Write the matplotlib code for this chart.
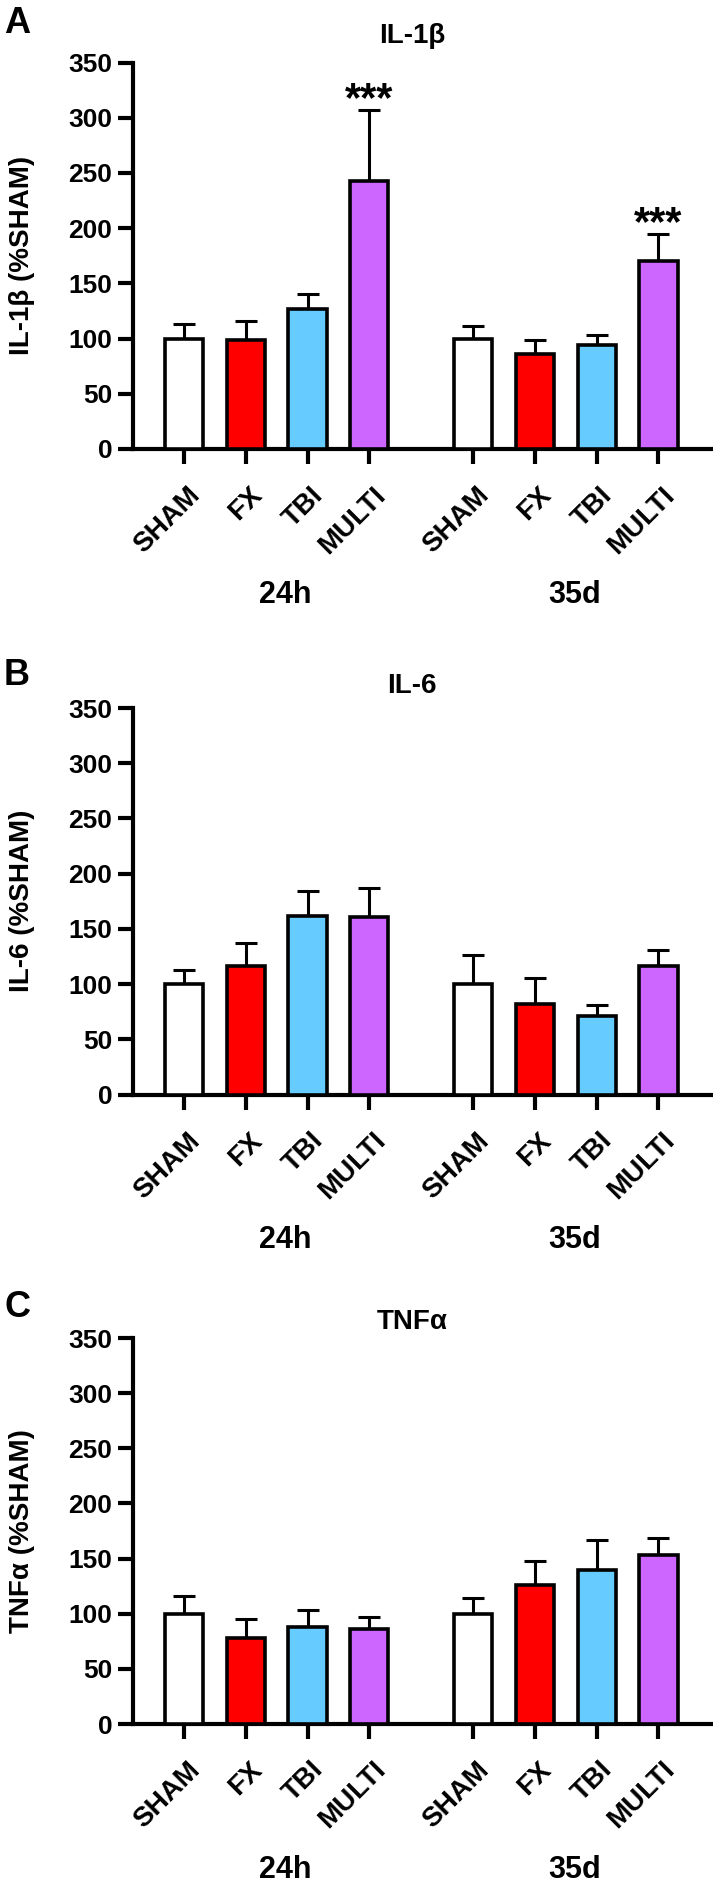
import numpy as np
import matplotlib.pyplot as plt

plt.rcParams['font.family'] = ['Liberation Sans', 'DejaVu Sans']
plt.rcParams['font.weight'] = 'bold'

# 组别与颜色
groups = ['SHAM', 'FX', 'TBI', 'MULTI']
times = ['24h', '35d']
colors = ['#FFFFFF', '#FF0000', '#66CCFF', '#CC66FF']

# 各面板数据 (均值 与 上误差)
il1b_mean = [100, 99, 127, 243, 100, 86, 94, 170]
il1b_err = [13, 17, 13, 64, 11, 13, 9.5, 24.5]
il6_mean = [100, 116, 162, 161, 100, 82, 71, 116]
il6_err = [13, 21, 22, 26, 26, 24, 10, 15]
tnfa_mean = [100, 78, 88, 86, 100, 126, 140, 153]
tnfa_err = [16, 17, 15, 11, 14, 22, 27, 16]

# 显著性标记 (条形索引)
il1b_stars = [3, 7]

panels = [
    ('A', 'IL-1β', 'IL-1β (%SHAM)', il1b_mean, il1b_err, il1b_stars),
    ('B', 'IL-6', 'IL-6 (%SHAM)', il6_mean, il6_err, []),
    ('C', 'TNFα', 'TNFα (%SHAM)', tnfa_mean, tnfa_err, []),
]

W, H = 713, 1882
fig = plt.figure(figsize=(W / 100, H / 100), dpi=100)

# 每个面板: (坐标轴顶部px, 底部px, 标题基线px, 字母基线px)
layout = [(62.5, 449, 43, 33), (708, 1094.6, 692.7, 685), (1338, 1724, 1329, 1317)]

x = np.array([0, 1, 2, 3, 4.68, 5.68, 6.68, 7.68])
ax_left, ax_right = 133, 711

for (letter, title, ylabel, mean, err, stars), (top, bot, tb, lb) in zip(panels, layout):
    ax = fig.add_axes([ax_left / W, 1 - bot / H, (ax_right - ax_left) / W, (bot - top) / H])
    cols = colors * 2
    ax.errorbar(x, mean, yerr=[np.zeros(len(err)), err], fmt='none', ecolor='black',
                elinewidth=2.2, capsize=8, capthick=2.2, zorder=2)
    ax.bar(x, mean, width=0.62, color=cols, edgecolor='black', linewidth=2.6, zorder=3)
    for i in stars:
        ax.text(x[i], mean[i] + err[i] - 1, '***', ha='center', va='baseline',
                fontsize=30, fontweight='bold')

    ax.set_xlim(-0.825, 8.53)
    ax.set_ylim(0, 350)
    ax.set_yticks(np.arange(0, 351, 50))
    ax.spines['top'].set_visible(False)
    ax.spines['right'].set_visible(False)
    for s in ['left', 'bottom']:
        ax.spines[s].set_linewidth(3)
    ax.tick_params(axis='both', width=3, length=11, labelsize=19, pad=4)
    for t in ax.get_yticklabels():
        t.set_fontweight('bold')
    ax.set_xticks(x)
    ax.set_xticklabels([])

    # 旋转的 x 轴标签
    for xi, g in zip(x, groups * 2):
        ax.text(xi + 0.275, -0.1216, g, transform=ax.get_xaxis_transform(),
                rotation=45, rotation_mode='anchor', ha='right', va='baseline',
                fontsize=20, fontweight='bold')
    for k, tname in enumerate(times):
        cx = x[k * 4:(k + 1) * 4].mean() + 0.14
        ax.text(cx, -0.398, tname, transform=ax.get_xaxis_transform(),
                ha='center', va='baseline', fontsize=22, fontweight='bold')

    ax.set_ylabel(ylabel, fontsize=20, fontweight='bold')
    ax.yaxis.set_label_coords(-0.17, 0.5)

    fig.text(412 / W, 1 - tb / H, title, ha='center', va='baseline', fontsize=20, fontweight='bold')
    fig.text(4 / W, 1 - lb / H, letter, ha='left', va='baseline', fontsize=26, fontweight='bold')

fig.savefig('out.png', dpi=100)
